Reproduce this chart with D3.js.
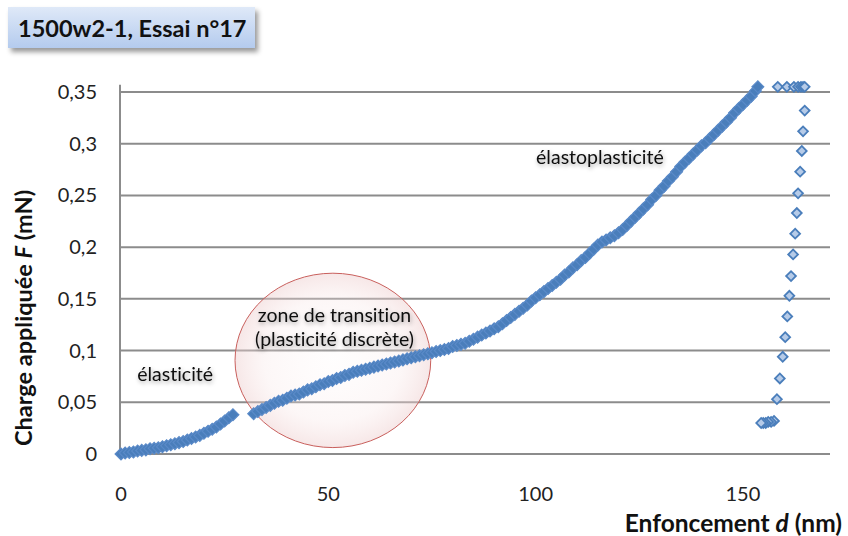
<!DOCTYPE html>
<html>
<head>
<meta charset="utf-8">
<script src="https://cdn.jsdelivr.net/npm/d3@7"></script>
<style>
  body { margin: 0; background: #fff; }
  svg { display: block; font-family: Lato, "Open Sans", sans-serif; font-variant-ligatures: none; }
</style>
</head>
<body>
<svg id="chart" width="848" height="536"></svg>
<script>
// loading branch (nm, mN)
const loadDepth = [0, 1, 2, 3, 4, 5, 6, 7, 8, 9, 10, 11, 12, 13, 14, 15, 16, 17, 18, 19, 20, 21, 22, 23, 24, 25, 26, 27,
  32, 33, 34, 35, 36, 37, 38, 39, 40, 41, 42, 43, 44, 45, 46, 47, 48, 49, 50, 51, 52, 53, 54, 55, 56, 57, 58, 59,
  60, 61, 62, 63, 64, 65, 66, 67, 68, 69, 70, 71, 72, 73, 74, 75, 76, 77, 78, 79, 80, 81, 82, 83, 84, 85, 86, 87,
  88, 89, 90, 91, 92, 93, 94, 95, 96, 97, 98, 99, 100, 101, 102, 103, 104, 105, 106, 107, 108, 109, 110, 111, 112,
  113, 114, 115, 116, 117, 118, 119, 120, 121, 122, 123, 124, 125, 126, 127, 128, 129, 130, 131, 132, 133, 134, 135,
  136, 137, 138, 139, 140, 141, 142, 143, 144, 145, 146, 147, 148, 149, 150, 151, 152, 153, 153.6];
const loadForce = [0, 0.001, 0.0015, 0.002, 0.003, 0.0035, 0.004, 0.005, 0.0055, 0.006, 0.007, 0.008, 0.009, 0.010,
  0.011, 0.012, 0.0135, 0.015, 0.0165, 0.018, 0.020, 0.022, 0.024, 0.026, 0.029, 0.032, 0.035, 0.038,
  0.039, 0.041, 0.043, 0.045, 0.047, 0.049, 0.051, 0.052, 0.054, 0.056, 0.057, 0.058, 0.060, 0.062, 0.063, 0.065,
  0.067, 0.068, 0.070, 0.071, 0.073, 0.074, 0.076, 0.077, 0.079, 0.080, 0.081, 0.082,
  0.083, 0.084, 0.085, 0.086, 0.087, 0.088, 0.089, 0.090, 0.091, 0.092, 0.093, 0.094, 0.095, 0.096, 0.097, 0.098,
  0.099, 0.100, 0.101, 0.102, 0.104, 0.105, 0.106, 0.107, 0.109, 0.111, 0.113, 0.115,
  0.117, 0.119, 0.121, 0.123, 0.126, 0.129, 0.132, 0.135, 0.138, 0.141, 0.144, 0.148, 0.151, 0.154, 0.157, 0.160,
  0.163, 0.166, 0.169, 0.173, 0.176, 0.180, 0.183, 0.187, 0.190,
  0.194, 0.198, 0.202, 0.205, 0.207, 0.209, 0.211, 0.214, 0.217, 0.221, 0.225, 0.229, 0.233, 0.237, 0.241, 0.246,
  0.250, 0.255, 0.259, 0.264, 0.268, 0.273, 0.278,
  0.282, 0.286, 0.290, 0.294, 0.298, 0.301, 0.305, 0.309, 0.313, 0.317, 0.321, 0.325, 0.330, 0.334, 0.338, 0.342,
  0.346, 0.351, 0.355];

// hold at max load + unloading branch
const unloadDepth = [158.4, 160.6, 162.3, 163.3, 164.0, 164.5, 164.9,
  164.9, 164.5, 164.2, 163.8, 163.3, 163.0, 162.6, 162.1, 161.6, 161.2, 160.7, 160.2, 159.6, 158.9, 158.2, 157.5,
  156.8, 156.1, 155.5, 154.9, 154.4];
const unloadForce = [0.355, 0.355, 0.355, 0.355, 0.355, 0.355, 0.355,
  0.332, 0.312, 0.293, 0.273, 0.252, 0.233, 0.213, 0.193, 0.172, 0.153, 0.133, 0.113, 0.094, 0.073, 0.053, 0.032,
  0.031, 0.031, 0.030, 0.030, 0.030];

const yTicks = [0, 0.05, 0.1, 0.15, 0.2, 0.25, 0.3, 0.35];
const yTickLabels = ["0", "0,05", "0,1", "0,15", "0,2", "0,25", "0,3", "0,35"];
const xTicks = [0, 50, 100, 150];
const xTickLabels = ["0", "50", "100", "150"];

const notes = [
  { text: "élasticité", d: 3.9, f: 0.0705, anchor: "start" },
  { text: "élastoplasticité", d: 115.5, f: 0.2805, anchor: "middle" },
  { text: "zone de transition", d: 51.5, f: 0.1275, anchor: "middle" },
  { text: "(plasticité discrète)", d: 51.5, f: 0.1045, anchor: "middle" }
];
const zone = { d: 51.1, f: 0.0905, rd: 23.6, rf: 0.0843 };

const svg = d3.select("#chart");
const x = d3.scaleLinear().domain([0, 171]).range([121, 830]);
const y = d3.scaleLinear().domain([0, 0.35]).range([454, 92]);

const defs = svg.append("defs");
const tg = defs.append("linearGradient").attr("id", "titleGrad")
  .attr("x1", 0).attr("y1", 0).attr("x2", 0).attr("y2", 1);
tg.append("stop").attr("offset", "0%").attr("stop-color", "#dfe9f8");
tg.append("stop").attr("offset", "100%").attr("stop-color", "#b4cbee");
const rg = defs.append("radialGradient").attr("id", "zoneGrad");
rg.append("stop").attr("offset", "0%").attr("stop-color", "#fdf5f5").attr("stop-opacity", 0.15);
rg.append("stop").attr("offset", "70%").attr("stop-color", "#f7e4e4").attr("stop-opacity", 0.3);
rg.append("stop").attr("offset", "100%").attr("stop-color", "#eccaca").attr("stop-opacity", 0.45);
const sh = defs.append("filter").attr("id", "shadow").attr("x", "-20%").attr("y", "-40%")
  .attr("width", "140%").attr("height", "200%");
sh.append("feDropShadow").attr("dx", 1).attr("dy", 2).attr("stdDeviation", 2)
  .attr("flood-color", "#000").attr("flood-opacity", 0.35);
const bs = defs.append("filter").attr("id", "boxShadow").attr("x", "-10%").attr("y", "-20%")
  .attr("width", "130%").attr("height", "160%");
bs.append("feDropShadow").attr("dx", 3).attr("dy", 4).attr("stdDeviation", 2.5)
  .attr("flood-color", "#000").attr("flood-opacity", 0.4);

// title box
svg.append("rect").attr("x", 8).attr("y", 7).attr("width", 247).attr("height", 41)
  .attr("fill", "url(#titleGrad)").attr("filter", "url(#boxShadow)");
svg.append("text").attr("x", 18).attr("y", 37).attr("font-size", 23.5).attr("font-weight", "bold")
  .attr("fill", "#111").text("1500w2-1, Essai n°17");

// grid
svg.append("g").selectAll("line").data(yTicks.slice(1)).join("line")
  .attr("x1", x(0)).attr("x2", x(171)).attr("y1", d => y(d)).attr("y2", d => y(d))
  .attr("stroke", "#8c8c8c").attr("stroke-width", 2);
// axes lines
svg.append("line").attr("x1", x(0) - 1).attr("x2", x(171)).attr("y1", y(0)).attr("y2", y(0))
  .attr("stroke", "#8c8c8c").attr("stroke-width", 2);
svg.append("line").attr("x1", x(0) - 1).attr("x2", x(0) - 1).attr("y1", y(0)).attr("y2", y(0.357))
  .attr("stroke", "#8c8c8c").attr("stroke-width", 2);

// tick labels
svg.append("g").selectAll("text").data(yTicks).join("text")
  .attr("x", 97).attr("y", d => y(d) + 7).attr("text-anchor", "end")
  .attr("font-size", 20).attr("fill", "#222").text((d, i) => yTickLabels[i]);
svg.append("g").selectAll("text").data(xTicks).join("text")
  .attr("x", d => x(d)).attr("y", 501).attr("text-anchor", "middle")
  .attr("font-size", 20).attr("fill", "#222").text((d, i) => xTickLabels[i]);

// axis titles
const yt = svg.append("text").attr("transform", "translate(32,318) rotate(-90)")
  .attr("text-anchor", "middle").attr("font-size", 23.5).attr("font-weight", "bold").attr("fill", "#111");
yt.append("tspan").text("Charge appliquée ");
yt.append("tspan").attr("font-style", "italic").text("F");
yt.append("tspan").text(" (mN)");
const xt = svg.append("text").attr("x", 842).attr("y", 532)
  .attr("text-anchor", "end").attr("font-size", 24.5).attr("font-weight", "bold").attr("fill", "#111");
xt.append("tspan").text("Enfoncement ");
xt.append("tspan").attr("font-style", "italic").text("d");
xt.append("tspan").text(" (nm)");

// transition zone ellipse
svg.append("ellipse")
  .attr("cx", x(zone.d)).attr("cy", y(zone.f))
  .attr("rx", x(zone.rd) - x(0)).attr("ry", y(0) - y(zone.rf))
  .attr("fill", "url(#zoneGrad)").attr("stroke", "#c9605d").attr("stroke-width", 1);

// markers
const diamond = d3.symbol().type(d3.symbolSquare).size(48);
const bigDiamond = d3.symbol().type(d3.symbolSquare).size(70);
const loadPts = loadDepth.map((d, i) => [d, loadForce[i]]);
const unloadPts = unloadDepth.map((d, i) => [d, unloadForce[i]]);

svg.append("g").selectAll("path").data(loadPts).join("path")
  .attr("d", bigDiamond)
  .attr("transform", d => `translate(${x(d[0])},${y(d[1])}) rotate(45)`)
  .attr("fill", "#4a7ebb").attr("stroke", "#5a8ac8").attr("stroke-width", 1.2);

svg.append("g").selectAll("path").data(unloadPts).join("path")
  .attr("d", diamond)
  .attr("transform", d => `translate(${x(d[0])},${y(d[1])}) rotate(45)`)
  .attr("fill", "#b6cbe8").attr("stroke", "#4a7ebb").attr("stroke-width", 1.8);

// annotations
svg.append("g").selectAll("text").data(notes).join("text")
  .attr("x", d => x(d.d)).attr("y", d => y(d.f))
  .attr("text-anchor", d => d.anchor).attr("font-size", 19.5).attr("fill", "#111")
  .attr("filter", "url(#shadow)").text(d => d.text);
</script>
</body>
</html>
